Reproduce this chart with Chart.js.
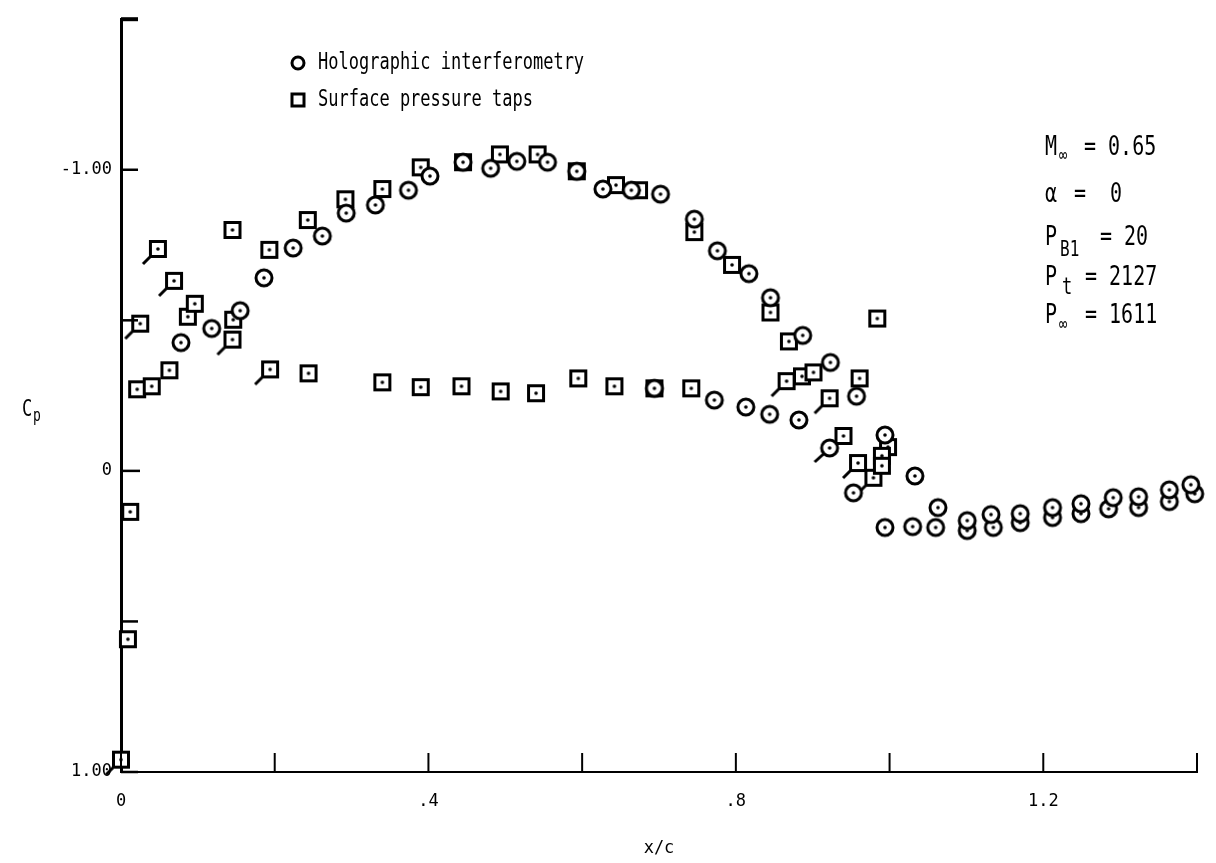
<!DOCTYPE html>
<html>
<head>
<meta charset="utf-8">
<script src="https://cdn.jsdelivr.net/npm/chart.js@4.4.1/dist/chart.umd.min.js"></script>
<style>
  html, body { margin: 0; padding: 0; background: #fff; }
  #wrap { width: 1216px; height: 863px; }
</style>
</head>
<body>
<div id="wrap"><canvas id="cpChart" width="1216" height="863"></canvas></div>
<script>
// Holographic interferometry (circles)
const holoX = [0.078, 0.118, 0.155, 0.186, 0.224, 0.262, 0.293, 0.331, 0.374, 0.402,
  0.445, 0.481, 0.515, 0.555, 0.593, 0.627, 0.664, 0.702, 0.746, 0.776,
  0.817, 0.845, 0.887, 0.923, 0.994, 0.694, 0.772, 0.813, 0.844, 0.882,
  0.957, 0.953, 1.033, 1.063, 1.060, 0.994, 1.030,
  1.101, 1.101, 1.135, 1.132, 1.170, 1.170, 1.212, 1.212, 1.249, 1.249,
  1.285, 1.291, 1.324, 1.324, 1.364, 1.364, 1.397, 1.392];
const holoCp = [-0.426, -0.473, -0.532, -0.641, -0.740, -0.780, -0.856, -0.883, -0.932, -0.979,
  -1.025, -1.005, -1.028, -1.025, -0.995, -0.936, -0.932, -0.919, -0.836, -0.731,
  -0.655, -0.575, -0.450, -0.360, -0.119, -0.274, -0.235, -0.212, -0.188, -0.169,
  -0.248, 0.073, 0.017, 0.122, 0.188, 0.188, 0.185,
  0.198, 0.165, 0.188, 0.145, 0.172, 0.142, 0.155, 0.122, 0.142, 0.109,
  0.126, 0.089, 0.122, 0.086, 0.102, 0.063, 0.076, 0.046];
// circles with a flag
const holoFlagX = [0.922];
const holoFlagCp = [-0.076];

// Surface pressure taps (squares)
const tapsX = [0.021, 0.040, 0.063, 0.087, 0.096, 0.145, 0.146, 0.193, 0.243, 0.244,
  0.292, 0.340, 0.340, 0.390, 0.390, 0.445, 0.443, 0.493, 0.494, 0.542,
  0.540, 0.593, 0.595, 0.644, 0.642, 0.674, 0.694, 0.742, 0.746, 0.795,
  0.845, 0.869, 0.886, 0.901, 0.961, 0.984, 0.940, 0.998, 0.990, 0.990,
  0.012, 0.009];
const tapsCp = [-0.271, -0.281, -0.334, -0.512, -0.555, -0.800, -0.502, -0.734, -0.833, -0.324,
  -0.902, -0.936, -0.294, -1.008, -0.278, -1.025, -0.281, -1.051, -0.264, -1.051,
  -0.258, -0.995, -0.307, -0.949, -0.281, -0.932, -0.274, -0.274, -0.793, -0.684,
  -0.526, -0.430, -0.314, -0.327, -0.307, -0.506, -0.116, -0.079, -0.050, -0.017,
  0.136, 0.559];
// squares with a flag
const tapsFlagX = [0.000, 0.025, 0.048, 0.069, 0.145, 0.194, 0.866, 0.922, 0.959, 0.979];
const tapsFlagCp = [0.959, -0.489, -0.737, -0.631, -0.436, -0.337, -0.298, -0.241, -0.026, 0.023];

const xLabels = { 0: '0', 4: '.4', 8: '.8', 12: '1.2' };
const yLabels = { '-10': '-1.00', '0': '0', '10': '1.00' };

const FONT = '"DejaVu Sans Mono", "Liberation Mono", monospace';

function toPoints(xs, ys) {
  return xs.map((x, i) => ({ x: x, y: ys[i] }));
}

// marker images: circle or square with a centre dot, optional flag
function makeMarker(shape, flag) {
  const c = document.createElement('canvas');
  c.width = 44; c.height = 44;
  const g = c.getContext('2d');
  g.translate(22, 22);
  g.strokeStyle = '#000';
  g.fillStyle = '#000';
  g.lineWidth = 3;
  if (flag) {
    g.beginPath();
    if (shape === 'circle') { g.moveTo(-5.5, 5.5); g.lineTo(-15, 14); }
    else { g.moveTo(-7, 7); g.lineTo(-15, 15); }
    g.stroke();
  }
  g.beginPath();
  if (shape === 'circle') g.arc(0, 0, 8, 0, Math.PI * 2);
  else g.rect(-7.5, -7.5, 15, 15);
  g.fillStyle = '#fff';
  g.fill();
  g.stroke();
  g.beginPath();
  g.arc(0, 0, 1.8, 0, Math.PI * 2);
  g.fillStyle = '#000';
  g.fill();
  return c;
}

function stretchText(ctx, text, x, y, size, align) {
  ctx.save();
  ctx.translate(x, y);
  ctx.scale(1, 1.3);
  ctx.font = size + 'px ' + FONT;
  ctx.textAlign = align || 'left';
  ctx.textBaseline = 'middle';
  ctx.fillStyle = '#000';
  ctx.fillText(text, 0, 0);
  ctx.restore();
}

// inward tick marks and top cap of the y axis
const inwardTicks = {
  id: 'inwardTicks',
  afterDraw(chart) {
    const ctx = chart.ctx;
    const xs = chart.scales.x, ys = chart.scales.y;
    const area = chart.chartArea;
    ctx.save();
    ctx.strokeStyle = '#000';
    ctx.lineWidth = 2;
    xs.ticks.forEach(t => {
      const px = xs.getPixelForValue(t.value);
      ctx.beginPath();
      ctx.moveTo(px, area.bottom);
      ctx.lineTo(px, area.bottom - 19);
      ctx.stroke();
    });
    ys.ticks.forEach(t => {
      const py = ys.getPixelForValue(t.value);
      ctx.lineWidth = t.value === -1.5 ? 4 : 2.5;
      ctx.beginPath();
      ctx.moveTo(area.left, py);
      ctx.lineTo(area.left + (t.value === 0 ? 19 : 17), py);
      ctx.stroke();
    });
    ctx.restore();
  }
};

// legend, Cp label and flow conditions
const annotations = {
  id: 'annotations',
  afterDraw(chart) {
    const ctx = chart.ctx;
    ctx.save();
    ctx.strokeStyle = '#000';
    ctx.lineWidth = 3;
    ctx.beginPath();
    ctx.arc(298, 63, 6, 0, Math.PI * 2);
    ctx.stroke();
    ctx.strokeRect(292, 94, 12, 12);
    ctx.restore();
    stretchText(ctx, 'Holographic interferometry', 318, 63, 17);
    stretchText(ctx, 'Surface pressure taps', 318, 100, 17);

    stretchText(ctx, 'C', 22, 410, 17);
    stretchText(ctx, 'p', 33, 417, 13);

    stretchText(ctx, 'M', 1045, 148, 20);
    stretchText(ctx, '\u221e', 1059, 156, 14);
    stretchText(ctx, '= 0.65', 1084, 148, 20);
    stretchText(ctx, '\u03b1', 1045, 195, 20);
    stretchText(ctx, '=  0', 1074, 195, 20);
    stretchText(ctx, 'P', 1045, 238, 20);
    stretchText(ctx, 'B1', 1060, 251, 16);
    stretchText(ctx, '= 20', 1100, 238, 20);
    stretchText(ctx, 'P', 1045, 278, 20);
    stretchText(ctx, 't', 1062, 288, 17);
    stretchText(ctx, '= 2127', 1085, 278, 20);
    stretchText(ctx, 'P', 1045, 316, 20);
    stretchText(ctx, '\u221e', 1059, 325, 14);
    stretchText(ctx, '= 1611', 1085, 316, 20);
  }
};

document.addEventListener('DOMContentLoaded', function () {
  const ctx = document.getElementById('cpChart').getContext('2d');

  new Chart(ctx, {
    type: 'scatter',
    data: {
      datasets: [
        {
          label: 'Holographic interferometry',
          data: toPoints(holoX, holoCp),
          pointStyle: makeMarker('circle', false),
          clip: false
        },
        {
          label: 'Holographic interferometry (flagged)',
          data: toPoints(holoFlagX, holoFlagCp),
          pointStyle: makeMarker('circle', true),
          clip: false
        },
        {
          label: 'Surface pressure taps',
          data: toPoints(tapsX, tapsCp),
          pointStyle: makeMarker('square', false),
          clip: false
        },
        {
          label: 'Surface pressure taps (flagged)',
          data: toPoints(tapsFlagX, tapsFlagCp),
          pointStyle: makeMarker('square', true),
          clip: false
        }
      ]
    },
    options: {
      responsive: false,
      animation: false,
      events: [],
      layout: { padding: { left: 0, top: 15, right: 12, bottom: 0 } },
      plugins: {
        legend: { display: false },
        tooltip: { enabled: false }
      },
      scales: {
        x: {
          type: 'linear',
          min: 0,
          max: 1.4,
          afterFit(scale) { scale.height = 91; },
          grid: { display: false, drawTicks: false },
          border: { display: true, color: '#000', width: 2 },
          ticks: {
            stepSize: 0.2,
            autoSkip: false,
            maxRotation: 0,
            padding: 19,
            color: '#000',
            font: { family: FONT, size: 17 },
            callback: v => xLabels[Math.round(v * 10)] || ''
          },
          title: {
            display: true,
            text: 'x/c',
            color: '#000',
            font: { family: FONT, size: 17 },
            padding: { top: 0, bottom: 4 }
          }
        },
        y: {
          type: 'linear',
          reverse: true,
          min: -1.5,
          max: 1.0,
          afterFit(scale) { scale.width = 121; },
          grid: { display: false, drawTicks: false },
          border: { display: true, color: '#000', width: 3 },
          ticks: {
            stepSize: 0.5,
            autoSkip: false,
            padding: 9,
            color: '#000',
            font: { family: FONT, size: 17 },
            callback: v => yLabels[String(Math.round(v * 10))] || ''
          }
        }
      }
    },
    plugins: [inwardTicks, annotations]
  });
});
</script>
</body>
</html>
